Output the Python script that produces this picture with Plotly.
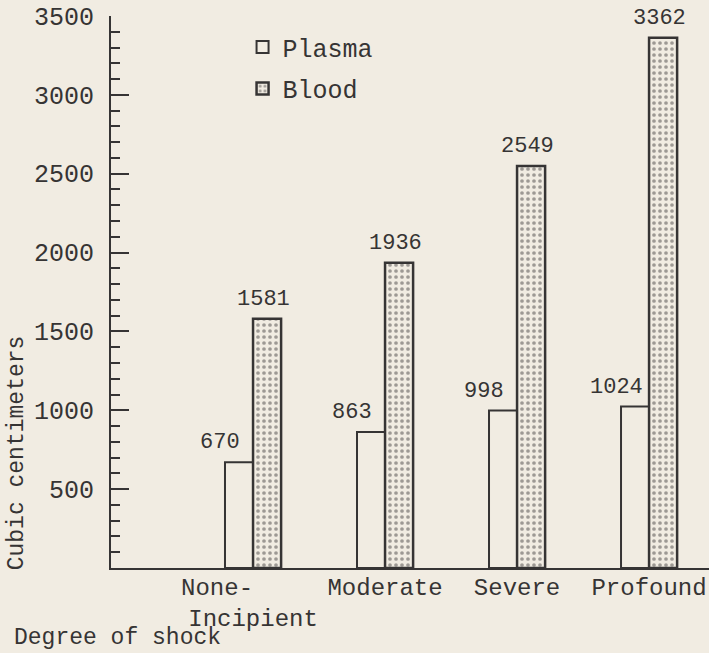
import plotly.graph_objects as go

categories = ["None-&nbsp;&nbsp;&nbsp;&nbsp;&nbsp;<br>Incipient", "Moderate", "Severe", "Profound"]
plasma = [670, 863, 998, 1024]
blood = [1581, 1936, 2549, 3362]
y_ticks = [500, 1000, 1500, 2000, 2500, 3000, 3500]

BG = "#f1ece2"
INK = "#363434"
FONT = "Liberation Mono"

fig = go.Figure()
fig.add_trace(go.Bar(
    name="Plasma", x=categories, y=plasma, legendgroup="p",
    marker=dict(color=BG, line=dict(color=INK, width=2)),
))
fig.add_trace(go.Bar(
    name="Blood", x=categories, y=blood, legendgroup="b",
    marker=dict(color=BG, line=dict(color=INK, width=2.5),
                pattern=dict(shape=".", fgcolor="#4a4646", bgcolor=BG, size=6, solidity=0.3)),
))

for c, v in zip(categories, plasma):
    fig.add_annotation(x=c, y=v, text=str(v), showarrow=False, yanchor="bottom",
                       xshift=-33, yshift=5, font=dict(family=FONT, size=22, color=INK))
for c, v in zip(categories, blood):
    fig.add_annotation(x=c, y=v, text=str(v), showarrow=False, yanchor="bottom",
                       xshift=10, yshift=5, font=dict(family=FONT, size=22, color=INK))

fig.add_annotation(xref="paper", yref="paper", x=-0.1656, y=-0.127, xanchor="left",
                   yanchor="middle", text="Degree of shock", showarrow=False,
                   font=dict(family=FONT, size=23, color=INK))
fig.add_annotation(xref="paper", yref="paper", x=-0.157, y=0.208, xanchor="center",
                   yanchor="middle", text="Cubic centimeters", textangle=-90, showarrow=False,
                   font=dict(family=FONT, size=23, color=INK))

fig.update_layout(
    width=709, height=653,
    margin=dict(l=111, r=0, t=16, b=85),
    paper_bgcolor=BG, plot_bgcolor=BG,
    barmode="group", bargap=0.575, bargroupgap=0,
    font=dict(family=FONT, size=24, color=INK),
    legend=dict(x=0.22, y=0.985, xanchor="left", yanchor="top", bgcolor="rgba(0,0,0,0)",
                font=dict(family=FONT, size=25, color=INK), tracegroupgap=6,
                traceorder="grouped"),
    xaxis=dict(range=[-1.076, 3.454], showline=True, linecolor=INK, linewidth=2,
               ticks="", showgrid=False, zeroline=False, ticklabelstandoff=-4,
               tickfont=dict(family=FONT, size=24, color=INK)),
    yaxis=dict(range=[0, 3500], showline=True, linecolor=INK, linewidth=2,
               tickvals=y_ticks, ticks="inside", ticklen=18, tickwidth=2, tickcolor=INK,
               showgrid=False, zeroline=False, ticklabelstandoff=10,
               tickfont=dict(family=FONT, size=25, color=INK),
               minor=dict(dtick=100, tick0=0, ticks="inside", ticklen=9, tickwidth=2,
                          tickcolor=INK, showgrid=False)),
)

fig.write_html("out.html", config={"displayModeBar": False},
               post_script="document.body.style.margin='0';document.body.style.background='%s';" % BG)
